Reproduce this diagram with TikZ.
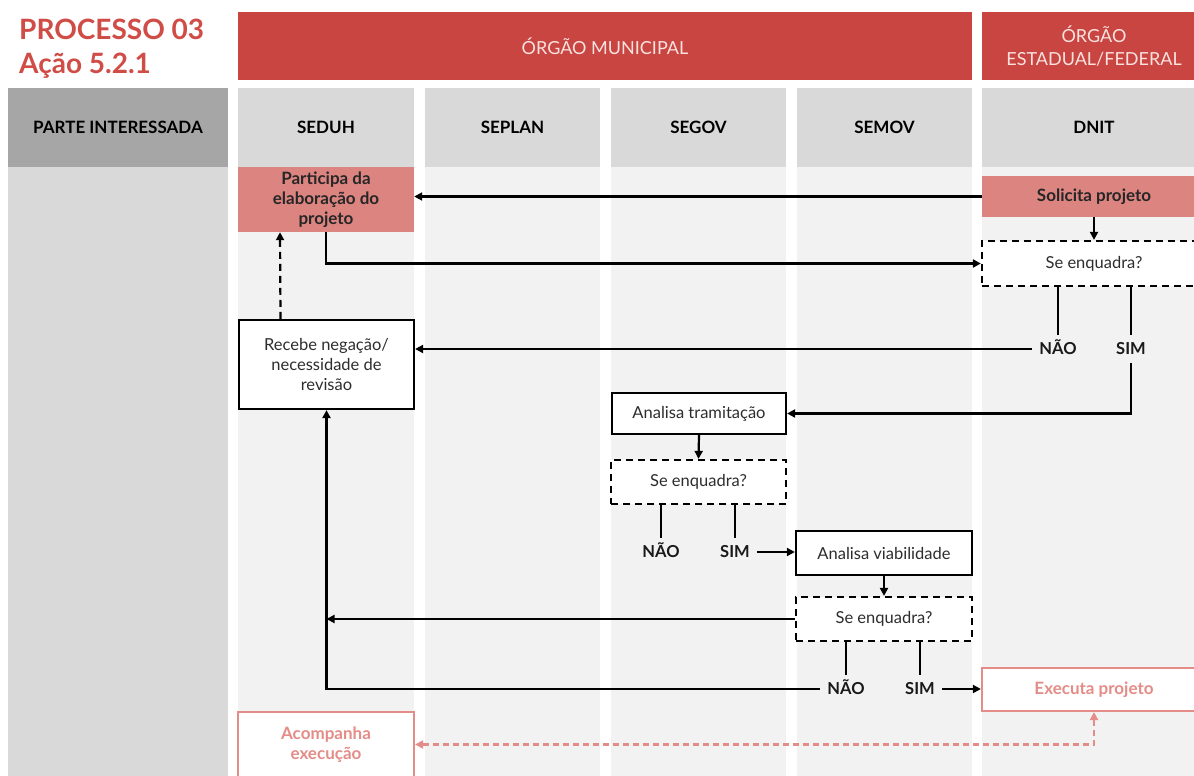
\documentclass[tikz,border=0pt]{standalone}
\usepackage{fontspec}
\setmainfont{Lato}
\usetikzlibrary{arrows.meta}
\definecolor{hdrred}{RGB}{200,69,65}
\definecolor{titlered}{RGB}{208,76,70}
\definecolor{pinkfill}{RGB}{220,132,128}
\definecolor{pinkline}{RGB}{228,140,135}
\definecolor{hdrtext}{RGB}{250,226,223}
\definecolor{darkgray}{RGB}{166,166,166}
\definecolor{midgray}{RGB}{217,217,217}
\definecolor{lanegray}{RGB}{242,242,242}
\definecolor{txt}{RGB}{45,45,45}
\begin{document}
\begin{tikzpicture}[x=1pt,y=-1pt,
  lanehead/.style={fill=midgray, minimum height=79pt, inner sep=0pt,
    font=\fontsize{17}{20}\selectfont\bfseries, text=black},
  redhead/.style={fill=hdrred, inner sep=0pt, align=center,
    font=\fontsize{18}{23}\selectfont, text=hdrtext},
  pinkbox/.style={fill=pinkfill, inner sep=0pt, align=center,
    font=\fontsize{17}{20}\selectfont\bfseries, text=black!85},
  whitebox/.style={draw=black, line width=2.2pt, fill=white, inner sep=0pt, align=center,
    font=\fontsize{16.5}{20}\selectfont, text=txt},
  decision/.style={draw=black, line width=2.2pt, dash pattern=on 7pt off 5pt, fill=white,
    inner sep=0pt, font=\fontsize{16.5}{20}\selectfont, text=txt},
  outbox/.style={draw=pinkline, line width=2.2pt, fill=white, inner sep=0pt, align=center,
    font=\fontsize{17}{20}\selectfont\bfseries, text=pinkline},
  answer/.style={inner sep=7pt, text height=12pt, text depth=2pt,
    font=\fontsize{16.5}{18}\selectfont\bfseries, text=black!90},
  flow/.style={line width=2.2pt, -{Triangle[length=8pt,width=8pt]}},
  plain/.style={line width=2.2pt},
  pinkflow/.style={line width=2.2pt, draw=pinkline, dash pattern=on 6pt off 4pt,
    {Triangle[length=8pt,width=8pt]}-{Triangle[length=8pt,width=8pt]}}
]
\useasboundingbox (0,0) rectangle (1194,776);

% swimlane bodies
\fill[midgray]  (8,167)   rectangle (228,776);
\fill[lanegray] (238,167) rectangle (414,776);
\fill[lanegray] (425,167) rectangle (600,776);
\fill[lanegray] (611,167) rectangle (786,776);
\fill[lanegray] (797,167) rectangle (972,776);
\fill[lanegray] (982,167) rectangle (1206,776);

% title
\node[anchor=north west, inner sep=0pt, align=left, text=titlered,
  font=\fontsize{28}{34}\selectfont\bfseries] (title) at (19,19)
  {PROCESSO 03\\Ação 5.2.1};

% organisation headers
\node[redhead, minimum width=734pt, minimum height=68pt] (mun) at (605,46) {ÓRGÃO MUNICIPAL};
\node[redhead, minimum width=224pt, minimum height=68pt] (est) at (1094,46) {ÓRGÃO\\ESTADUAL/FEDERAL};

% lane headers
\node[lanehead, fill=darkgray, minimum width=220pt] (hpi) at (118,127.5) {PARTE INTERESSADA};
\node[lanehead, minimum width=176pt] (hseduh) at (326,127.5) {SEDUH};
\node[lanehead, minimum width=175pt] (hseplan) at (512.5,127.5) {SEPLAN};
\node[lanehead, minimum width=175pt] (hsegov) at (698.5,127.5) {SEGOV};
\node[lanehead, minimum width=175pt] (hsemov) at (884.5,127.5) {SEMOV};
\node[lanehead, minimum width=224pt] (hdnit) at (1094,127.5) {DNIT};

% process steps
\node[pinkbox, minimum width=176pt, minimum height=65pt] (part) at (326,199.5)
  {Participa da\\elaboração do\\projeto};
\node[pinkbox, minimum width=224pt, minimum height=41pt] (sol) at (1094,196.5) {Solicita projeto};
\node[decision, minimum width=224pt, minimum height=45pt] (dq1) at (1094,263.5) {Se enquadra?};
\node[answer] (nao1) at (1058,349) {NÃO};
\node[answer] (sim1) at (1131,349) {SIM};
\node[whitebox, minimum width=175pt, minimum height=89pt] (rec) at (326.5,364.5)
  {Recebe negação/\\necessidade de\\revisão};
\node[whitebox, minimum width=174pt, minimum height=41pt] (at) at (699,413.5) {Analisa tramitação};
\node[decision, minimum width=175pt, minimum height=44pt] (dq2) at (698.5,482) {Se enquadra?};
\node[answer] (nao2) at (661,552) {NÃO};
\node[answer] (sim2) at (735,552) {SIM};
\node[whitebox, minimum width=176pt, minimum height=44pt] (av) at (884,553) {Analisa viabilidade};
\node[decision, minimum width=176pt, minimum height=44pt] (dq3) at (884,619) {Se enquadra?};
\node[answer] (nao3) at (846,689) {NÃO};
\node[answer] (sim3) at (920,689) {SIM};
\node[outbox, minimum width=224pt, minimum height=43pt] (exe) at (1094,689.5) {Executa projeto};
\node[outbox, minimum width=176pt, minimum height=65pt] (acp) at (326,744.5) {Acompanha\\execução};

% connectors
\draw[flow] (sol.west) -- (sol.west -| part.east);
\draw[flow] (sol.south) -- (dq1.north);
\draw[flow] (part.south) |- (dq1.west);
\draw[plain] (nao1.north |- dq1.south) -- (nao1.north);
\draw[plain] (sim1.north |- dq1.south) -- (sim1.north);
\draw[flow] (nao1.west) -- (nao1.west -| rec.east);
\draw[flow] (sim1.south) |- (at.east);
\draw[flow, dash pattern=on 7pt off 5pt] ([xshift=-46pt]rec.north) -- ([xshift=-46pt]part.south);
\draw[flow] (at.south) -- (dq2.north);
\draw[plain] (nao2.north |- dq2.south) -- (nao2.north);
\draw[plain] (sim2.north |- dq2.south) -- (sim2.north);
\draw[flow] (sim2.east) -- (sim2.east -| av.west);
\draw[flow] (av.south) -- (dq3.north);
\draw[flow] (dq3.west) -- (dq3.west -| rec.south);
\draw[plain] (nao3.north |- dq3.south) -- (nao3.north);
\draw[plain] (sim3.north |- dq3.south) -- (sim3.north);
\draw[flow] (nao3.west) -| (rec.south);
\draw[flow] (sim3.east) -- (sim3.east -| exe.west);
\draw[pinkflow] (acp.east) -| (exe.south);
\end{tikzpicture}
\end{document}
